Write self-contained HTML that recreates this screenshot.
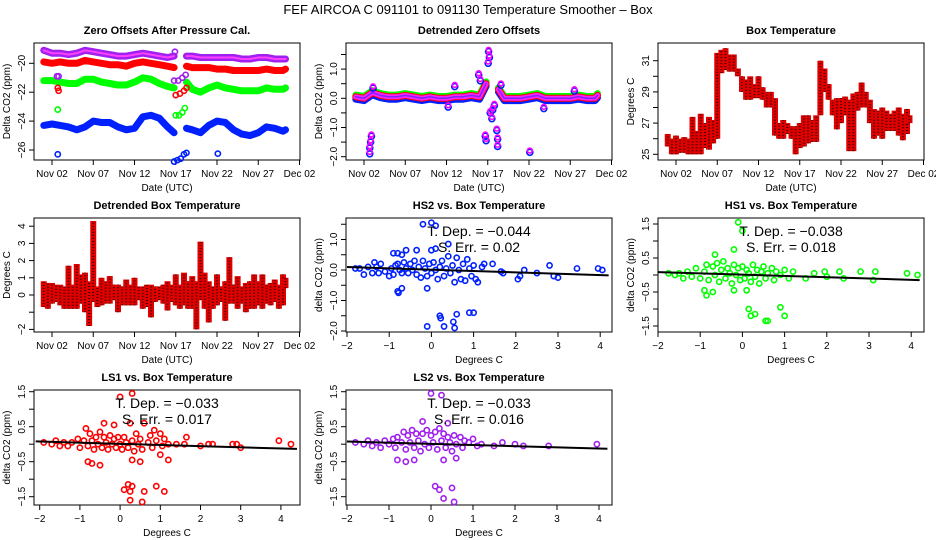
<!DOCTYPE html>
<html><head><meta charset="utf-8"><style>
html,body{margin:0;padding:0;background:#fff}
svg{display:block;font-family:"Liberation Sans",sans-serif}
</style></head><body>
<svg id="c" width="936" height="540" viewBox="0 0 936 540">
<text x="468" y="14" text-anchor="middle" font-size="13">FEF   AIRCOA C   091101 to 091130   Temperature Smoother – Box</text>
</svg>
<script>
// ---- data ----
const dateTicks = [2,7,12,17,22,27,32];
const dateLabels = ["Nov 02","Nov 07","Nov 12","Nov 17","Nov 22","Nov 27","Dec 02"];
const days = [1,2,3,4,5,6,7,8,9,10,11,12,13,14,15,16,16.8,null,18.3,19,20,21,22,23,24,25,26,27,28,29,30,30.3];
const zPurple = [-19.1,-19.3,-19.3,-19.4,-19.3,-19.1,-19.2,-19.3,-19.4,-19.5,-19.5,-19.4,-19.3,-19.4,-19.5,-19.6,-19.5,null,-19.5,-19.5,-19.6,-19.6,-19.6,-19.6,-19.6,-19.7,-19.7,-19.6,-19.6,-19.7,-19.7,-19.7];
const zRed = [-19.9,-20.0,-19.9,-20.0,-20.0,-19.8,-19.9,-20.0,-20.1,-20.1,-20.2,-20.0,-19.9,-20.0,-20.1,-20.2,-20.3,null,-20.2,-20.3,-20.3,-20.3,-20.4,-20.4,-20.5,-20.5,-20.5,-20.5,-20.4,-20.5,-20.5,-20.4];
const zGreen = [-21.2,-21.2,-21.3,-21.4,-21.4,-21.1,-21.1,-21.3,-21.4,-21.5,-21.5,-21.3,-21.0,-21.1,-21.4,-21.6,-21.7,null,-21.3,-21.8,-22.0,-21.7,-21.5,-21.7,-21.8,-21.9,-21.9,-21.9,-21.7,-21.8,-21.8,-21.7];
const zBlue = [-24.3,-24.2,-24.3,-24.4,-24.6,-24.4,-24.0,-24.1,-24.1,-24.4,-24.6,-24.5,-23.7,-23.6,-23.8,-24.4,-24.8,null,-24.5,-24.6,-24.8,-24.3,-24.0,-24.1,-24.6,-24.9,-25.0,-24.8,-24.4,-24.5,-24.7,-24.6];
const zOutBlue = [[2.7,-26.3],[16.8,-26.8],[17.2,-26.7],[17.6,-26.6],[18,-26.3],[18.3,-26.2],[22.1,-26.25]];
const zOutGreen = [[2.7,-23.2],[17,-23.6],[17.4,-23.6],[17.8,-23.4],[18.1,-23.1]];
const zOutRed = [[2.7,-21.7],[2.8,-21.9],[17,-22.2],[17.5,-22.1],[18,-21.9],[18.3,-21.7]];
const zOutPurple = [[2.6,-20.9],[2.8,-20.9],[16.8,-21.2],[17.3,-21.2],[17.8,-21.0],[18.2,-20.8],[16.9,-19.2]];

const dtBase = [0.05,0.0,0.2,0.1,0.05,0.05,0.1,0.05,0.0,0.05,0.0,0.0,0.05,0.05,0.1,0.05,0.5,null,0.3,0.0,0.0,0.0,0.05,0.1,0.0,0.0,0.0,0.0,0.05,0.0,0.0,0.1];
const dtOutliers = [[2.7,-1.9],[2.7,-1.7],[2.8,-1.5],[2.9,-1.3],[3.1,0.35],[12.2,-0.3],[13,0.4],[15.9,0.8],[16.1,0.6],[16.7,-1.3],[16.8,-1.45],[17.1,1.6],[17.2,1.4],[17.05,1.2],[17.3,-0.5],[17.5,-0.7],[17.6,-0.4],[17.8,-0.25],[18.1,-1.1],[18.2,-1.4],[18.2,-1.65],[18.6,0.45],[22.1,-1.85],[23.8,-0.35],[27.5,0.25]];

const btDays = [1,1.5,2,2.5,3,3.5,4,4.5,5,5.5,6,6.5,7,7.5,8,8.5,9,9.5,10,10.5,11,11.5,12,12.5,13,13.5,14,14.5,15,15.5,16,16.5,17,17.5,18,18.5,19,19.5,20,20.5,21,21.5,22,22.5,23,23.5,24,24.5,25,25.5,26,26.5,27,27.5,28,28.5,29,29.5,30,30.3];
const btLo = [25.5,25,25,25.1,25.1,25,25,25,25,25.4,25.3,25.7,26,30.2,30.4,30.3,30.3,30,29,28.5,28.5,28.6,28.6,28.5,28,28,26.2,26,26,26.3,26,25,25.4,25.5,25.7,25.8,25.8,27.5,29,28.5,27.5,26.6,27,27.5,25.2,25.2,27.8,28,28,27,26,26.2,26,26.5,26.5,26.5,26.2,25.9,26.3,27];
const btHi = [26.3,26,26.2,26,26.1,26,27.4,26.5,27.6,27,27.4,27.2,31.5,31.7,31.8,31.4,31.4,30.5,30,29.8,30,29.5,30,29.3,29,29,28.6,27,27.2,27,26.8,26.8,27,27.5,27.5,27.2,27.5,31,30.5,29.5,28.5,28.6,28.6,28.7,28.5,28.9,29,29.6,29,28.5,27.9,27.8,28,27.8,27.6,27.8,28,27.6,27.9,27.5];
const dbLo = [-0.7,-0.8,-0.5,-0.4,-0.6,-0.8,-0.8,-0.8,-0.8,-0.5,-1.0,-1.8,-0.4,-0.7,-0.6,-0.5,-0.5,-0.3,-1.0,-0.6,-0.6,-0.6,-0.6,-0.3,-0.8,-0.7,-1.3,-0.4,-0.3,-0.5,-0.9,-0.4,-0.6,-0.8,-0.6,-0.8,-0.8,-2.0,-0.3,-0.8,-1.6,-0.8,-0.6,-0.4,-1.5,-0.5,-0.5,-0.8,-0.5,-1.0,-0.8,-0.8,-0.6,-0.8,-0.5,-0.6,-0.4,-0.8,-0.6,0.4];
const dbHi = [0.8,0.7,0.7,0.6,0.6,0.5,1.7,0.6,1.8,1.2,1.3,0.8,4.3,0.5,1.0,0.8,1.1,0.6,0.6,0.5,0.9,0.6,1.0,0.5,0.5,0.6,0.6,0.5,0.5,0.6,0.8,0.6,1.2,0.6,1.3,0.8,1.1,0.8,3.1,1.3,0.8,0.5,1.2,0.5,0.8,2.2,0.6,1.1,0.5,0.7,0.8,1.2,0.8,1.2,0.6,0.7,0.9,0.6,1.2,1.0];

const hs2Pts = [[-1.8,0.05],[-1.7,0.05],[-1.6,-0.15],[-1.5,0.1],[-1.4,-0.1],[-1.35,0.25],[-1.3,0.1],[-1.25,-0.1],[-1.2,0.2],[-1.1,-0.05],[-1.0,-0.2],[-0.95,0.05],[-0.9,-0.15],[-0.85,0.15],[-0.8,0.2],[-0.75,0.0],[-0.7,-0.1],[-0.65,0.25],[-0.6,0.05],[-0.55,-0.1],[-0.5,0.2],[-0.45,0.0],[-0.4,0.3],[-0.35,-0.15],[-0.3,0.1],[-0.25,-0.25],[-0.2,0.3],[-0.15,0.05],[-0.1,-0.2],[-0.05,0.2],[0,-0.1],[0.05,0.25],[0.1,0.0],[0.15,-0.3],[0.2,0.1],[0.25,0.3],[0.3,-0.2],[0.35,0.05],[0.4,0.45],[0.45,-0.1],[0.5,0.15],[0.55,-0.4],[0.6,0.4],[0.65,0.0],[0.7,-0.3],[0.75,0.2],[0.8,-0.35],[0.85,0.35],[0.9,0.05],[0.95,-0.2],[1.0,0.15],[1.05,-0.3],[1.1,-0.4],[1.2,0.1],[1.25,0.2],[1.45,0.2],[1.65,-0.05],[1.7,-0.1],[2.05,-0.3],[2.1,-0.2],[2.2,0.0],[2.5,-0.1],[2.8,0.15],[2.9,-0.2],[3.0,-0.25],[3.45,0.05],[3.95,0.05],[4.05,0.0],[-0.2,1.5],[0,1.55],[0.1,1.45],[0.4,0.85],[0,0.65],[0.1,0.7],[-0.9,0.55],[-0.8,0.55],[-0.7,0.5],[-0.6,0.65],[-0.35,0.65],[-0.8,-0.7],[-0.78,-0.75],[-0.7,-0.6],[-0.1,-0.6],[0.2,-1.5],[0.22,-1.58],[0.6,-1.45],[0.9,-1.4],[1.0,-1.4],[-0.1,-1.85],[0.3,-1.85],[0.55,-1.9],[0.52,-1.7]];
const hs2Slope = -0.044;
const hs2Err = "0.02";
const hs1Pts = [[-1.75,0.05],[-1.6,0.0],[-1.5,0.05],[-1.4,-0.1],[-1.3,0.1],[-1.2,-0.05],[-1.1,0.2],[-1.0,-0.1],[-0.9,0.1],[-0.85,0.3],[-0.8,-0.15],[-0.7,0.25],[-0.65,0.0],[-0.6,0.35],[-0.55,-0.2],[-0.5,0.15],[-0.45,0.4],[-0.4,-0.1],[-0.35,0.2],[-0.3,0.05],[-0.25,-0.25],[-0.2,0.3],[-0.15,0.0],[-0.1,0.2],[-0.05,-0.15],[0,0.25],[0.05,-0.1],[0.1,0.15],[0.15,0.05],[0.2,-0.2],[0.25,0.3],[0.3,-0.05],[0.35,0.15],[0.4,-0.25],[0.45,0.1],[0.5,0.25],[0.55,-0.1],[0.6,0.05],[0.7,0.2],[0.75,-0.15],[0.8,0.1],[0.9,0.0],[1.0,0.15],[1.1,-0.1],[1.2,0.1],[1.5,-0.1],[1.7,0.05],[1.95,0.1],[2.0,-0.05],[2.3,0.1],[2.4,-0.1],[2.8,0.1],[3.1,-0.15],[3.15,0.1],[3.9,0.05],[4.15,0.0],[-0.1,1.55],[0.0,1.3],[-0.2,0.75],[-0.65,0.6],[-0.9,-0.45],[-0.85,-0.6],[-0.7,-0.5],[-0.2,-0.45],[0.1,-0.45],[0.15,-1.0],[0.2,-1.2],[0.3,-1.15],[0.55,-1.35],[0.6,-1.35],[0.9,-0.95],[1.0,-1.2]];
const hs1Slope = -0.038;
const hs1Err = "0.018";
const ls1Pts = [[-1.9,0.05],[-1.7,0.0],[-1.6,0.1],[-1.5,-0.05],[-1.4,0.05],[-1.3,-0.05],[-1.2,0.05],[-1.05,0.15],[-1.0,-0.1],[-0.9,0.1],[-0.85,0.45],[-0.8,-0.05],[-0.75,0.3],[-0.7,0.1],[-0.65,-0.15],[-0.6,0.2],[-0.55,0.0],[-0.5,0.35],[-0.45,-0.1],[-0.4,0.2],[-0.35,0.05],[-0.3,-0.15],[-0.25,0.25],[-0.2,0.0],[-0.15,0.15],[-0.1,-0.1],[-0.05,0.2],[0,0.0],[0.05,-0.15],[0.1,0.2],[0.15,0.05],[0.2,-0.1],[0.25,0.6],[0.3,0.1],[0.35,-0.2],[0.4,0.3],[0.45,0.0],[0.5,0.15],[0.55,-0.15],[0.6,0.6],[0.7,0.05],[0.75,0.25],[0.8,-0.1],[0.85,0.4],[0.9,0.1],[1.0,0.3],[1.05,-0.05],[1.1,0.15],[1.2,0.0],[1.4,0.0],[1.6,0.0],[1.65,0.2],[2.0,-0.05],[2.2,0.0],[2.3,0.0],[2.8,0.0],[2.9,0.0],[3.0,-0.1],[3.95,0.1],[4.25,0.0],[0.3,1.45],[0.0,1.35],[-0.4,0.6],[-0.15,0.55],[-0.8,-0.5],[-0.7,-0.55],[-0.5,-0.6],[0.3,-0.45],[0.5,-0.5],[1.0,-0.3],[1.2,-0.45],[0.1,-1.3],[0.2,-1.15],[0.25,-1.35],[0.3,-1.2],[0.6,-1.35],[0.9,-1.2],[1.1,-1.35],[0.25,-1.6],[0.55,-1.65]];
const ls1Slope = -0.033;
const ls1Err = "0.017";
const ls2Pts = [[-1.8,0.05],[-1.6,0.0],[-1.5,0.1],[-1.4,-0.05],[-1.3,0.05],[-1.2,-0.1],[-1.1,0.1],[-1.0,0.0],[-0.9,0.15],[-0.85,-0.1],[-0.8,0.2],[-0.7,0.05],[-0.65,0.35],[-0.6,-0.15],[-0.55,0.25],[-0.5,0.05],[-0.45,0.4],[-0.4,-0.1],[-0.35,0.3],[-0.3,0.1],[-0.25,-0.2],[-0.2,0.3],[-0.15,0.0],[-0.1,0.4],[-0.05,-0.1],[0,0.25],[0.05,0.05],[0.1,0.35],[0.15,-0.15],[0.2,0.45],[0.25,0.1],[0.3,0.3],[0.35,-0.1],[0.4,0.2],[0.45,0.05],[0.5,-0.2],[0.55,0.25],[0.6,0.0],[0.7,0.2],[0.75,-0.1],[0.8,0.1],[0.9,0.05],[1.0,0.15],[1.1,-0.05],[1.2,0.0],[1.5,-0.05],[1.7,0.05],[2.0,0.0],[2.2,-0.05],[2.8,-0.05],[3.95,0.0],[0.0,1.45],[0.25,1.4],[-0.2,0.65],[0.4,0.6],[-0.8,-0.45],[-0.6,-0.5],[-0.4,-0.45],[0.3,-0.45],[0.6,-0.4],[0.1,-1.2],[0.2,-1.3],[0.5,-1.25],[0.3,-1.55],[0.55,-1.65]];
const ls2Slope = -0.033;
const ls2Err = "0.016";

// ---- drawing ----
const svg = document.getElementById('c');
const NS = 'http://www.w3.org/2000/svg';
function mk(tag, attrs, parent){ const e=document.createElementNS(NS,tag); for(const k in attrs) e.setAttribute(k,attrs[k]); (parent||svg).appendChild(e); return e; }
function txt(x,y,s,size,attrs,parent){ const e=mk('text',Object.assign({x:x,y:y,'font-size':size,'text-anchor':'middle'},attrs||{}),parent); e.textContent=s; return e; }

const rowsY = [[43,160],[218,332],[390,505]];
function panel(col,row,name,title,xlab,ylab){
  const g = mk('g',{});
  
  
  const x0=34+312*col, x1=300+312*col, y0=rowsY[row][0], y1=rowsY[row][1];
  const b=mk('rect',{x:x0,y:y0,width:x1-x0,height:y1-y0,fill:'none',stroke:'#000','stroke-width':1},g);
  
  
  const t=txt((x0+x1)/2,y0-9,title,11,{'font-weight':'bold'},g);
  
  
  const xl=txt((x0+x1)/2,y1+31,xlab,10,{},g);
  
  
  const yl=txt(0,0,ylab,10,{transform:`translate(${x0-24},${(y0+y1)/2}) rotate(-90)`},g);
  
  
  return {g,x0,x1,y0,y1};
}
function xTicks(p,fx,vals,labels){
  vals.forEach((v,i)=>{ const x=fx(v);
    mk('line',{x1:x,x2:x,y1:p.y1,y2:p.y1+5,stroke:'#000'},p.g);
    const t=txt(x,p.y1+17,labels[i],10,{},p.g);
    
    
  });
  mk('line',{x1:fx(vals[0]),x2:fx(vals[vals.length-1]),y1:p.y1,y2:p.y1,stroke:'#000'},p.g);
}
function yTicks(p,fy,vals,labels){
  vals.forEach((v,i)=>{ const y=fy(v);
    mk('line',{x1:p.x0-5,x2:p.x0,y1:y,y2:y,stroke:'#000'},p.g);
    if(labels[i]!==''){ const t=txt(0,0,labels[i],10,{transform:`translate(${p.x0-9},${y}) rotate(-90)`},p.g);
      
       }
  });
}
function series(p,fx,fy,xs,ys,color,w,name){
  let segs=[],cur=[];
  xs.forEach((d,i)=>{ if(d===null||ys[i]===null){ if(cur.length) segs.push(cur); cur=[]; } else cur.push(fx(d).toFixed(1)+','+fy(ys[i]).toFixed(1)); });
  if(cur.length) segs.push(cur);
  segs.forEach(s=>{ const l=mk('polyline',{points:s.join(' '),fill:'none',stroke:color,'stroke-width':w,'stroke-linejoin':'round','stroke-linecap':'round'},p.g);
    
     });
}
function pts(p,fx,fy,arr,color,name,r){
  arr.forEach(q=>{ const c=mk('circle',{cx:fx(q[0]),cy:fy(q[1]),r:r||2.6,fill:'none',stroke:color,'stroke-width':1.6},p.g);
    
     });
}
function bands(p,fx,fy,xs,lo,hi,name){
  xs.forEach((d,i)=>{ const x=fx(d);
    const r=mk('line',{x1:x,x2:x,y1:fy(lo[i]),y2:fy(hi[i]),stroke:'#e00000','stroke-width':6},p.g);
    
    
    mk('line',{x1:x,x2:x,y1:fy(lo[i]),y2:fy(hi[i]),stroke:'#400','stroke-width':2,'stroke-dasharray':'1 2'},p.g);
  });
}
const tx = col => d => 52+312*col+(d-2)*8.25;

// Panel 1
{ const p=panel(0,0,'zero-offsets-panel','Zero Offsets After Pressure Cal.','Date (UTC)','Delta CO2  (ppm)');
  const fx=tx(0), fy=v=>63.3-(v+20)*14.45;
  xTicks(p,fx,dateTicks,dateLabels); yTicks(p,fy,[-26,-24,-22,-20],['−26','−24','−22','−20']);
  series(p,fx,fy,days,zBlue,'#0020ff',7,'blue-series');
  series(p,fx,fy,days,zGreen,'#00ff00',7,'green-series');
  series(p,fx,fy,days,zRed,'#ff0000',7,'red-series');
  series(p,fx,fy,days,zPurple,'#a020f0',7,'purple-series');
  series(p,fx,fy,days,zPurple,'#ff40ff',2,'purple-series-highlight');
  pts(p,fx,fy,zOutBlue,'#0020ff','blue-outlier'); pts(p,fx,fy,zOutGreen,'#00ff00','green-outlier');
  pts(p,fx,fy,zOutRed,'#ff0000','red-outlier'); pts(p,fx,fy,zOutPurple,'#a020f0','purple-outlier');
}
// Panel 2
{ const p=panel(1,0,'detrended-offsets-panel','Detrended Zero Offsets','Date (UTC)','Delta CO2  (ppm)');
  const fx=tx(1), fy=v=>98.3-v*29.2;
  xTicks(p,fx,dateTicks,dateLabels); yTicks(p,fy,[-2,-1.5,-1,-0.5,0,0.5,1,1.5],['−2.0','','−1.0','','0.0','','1.0','']);
  series(p,fx,fy,days,dtBase.map(v=>v===null?null:v-0.08),'#0020ff',7,'blue-detrended');
  series(p,fx,fy,days,dtBase.map(v=>v===null?null:v+0.06),'#00ff00',7,'green-detrended');
  series(p,fx,fy,days,dtBase,'#ff0000',7,'red-detrended');
  series(p,fx,fy,days,dtBase,'#ff20ff',5,'purple-detrended');
  series(p,fx,fy,days,dtBase,'#8020ff',1.5,'purple-detrended-dots');
  pts(p,fx,fy,dtOutliers,'#0020ff','detrended-outlier-blue',3);
  pts(p,fx,fy,dtOutliers.map(q=>[q[0],q[1]+0.06]),'#ff00ff','detrended-outlier-purple',2.4);
}
// Panel 3
{ const p=panel(2,0,'box-temperature-panel','Box Temperature','Date (UTC)','Degrees C');
  const fx=tx(2), fy=v=>154.3-(v-25)*15.6;
  xTicks(p,fx,dateTicks,dateLabels); yTicks(p,fy,[25,26,27,28,29,30,31],['25','','27','','29','','31']);
  bands(p,fx,fy,btDays,btLo,btHi,'box-temp-band');
}
// Panel 4
{ const p=panel(0,1,'detrended-box-temp-panel','Detrended Box Temperature','Date (UTC)','Degrees C');
  const fx=tx(0), fy=v=>295-v*17.2;
  xTicks(p,fx,dateTicks,dateLabels); yTicks(p,fy,[-2,-1,0,1,2,3,4],['−2','','0','1','2','3','4']);
  bands(p,fx,fy,btDays,dbLo,dbHi,'detrended-temp-band');
}
function scatterPanel(col,row,name,title,data,slope,err,color,fx,fy,yv,yl,xMin,xMax){
  const p=panel(col,row,name,title,'Degrees C','delta CO2 (ppm)');
  xTicks(p,fx,[-2,-1,0,1,2,3,4],['−2','−1','0','1','2','3','4']);
  yTicks(p,fy,yv,yl);
  pts(p,fx,fy,data,color,name+'-point');
  const l=mk('line',{x1:fx(xMin),y1:fy(slope*xMin+0.01),x2:fx(xMax),y2:fy(slope*xMax+0.01),stroke:'#000','stroke-width':2},p.g);
  
  
  const cx=(p.x0+p.x1)/2;
  const t1=txt(cx,p.y0+18,'T. Dep. =  '+String(slope).replace('-','−'),14,{},p.g);
  
  
  const t2=txt(cx,p.y0+34,'S. Err. =  '+err,14,{},p.g);
  
  
}
scatterPanel(1,1,'hs2-scatter','HS2 vs. Box Temperature',hs2Pts,hs2Slope,hs2Err,'#0020ff',
  v=>347+(v+2)*42.2, v=>270-v*30.5,[-2,-1.5,-1,-0.5,0,0.5,1,1.5],['−2.0','','−1.0','','0.0','','1.0',''],-2,4.2);
scatterPanel(2,1,'hs1-scatter','HS1 vs. Box Temperature',hs1Pts,hs1Slope,hs1Err,'#00ff00',
  v=>658+(v+2)*42.2, v=>275-v*34,[-1.5,-1,-0.5,0,0.5,1,1.5],['−1.5','','−0.5','','0.5','','1.5'],-2,4.2);
scatterPanel(0,2,'ls1-scatter','LS1 vs. Box Temperature',ls1Pts,ls1Slope,ls1Err,'#ff0000',
  v=>39.7+(v+2)*40.2, v=>444.2-v*35,[-1.5,-1,-0.5,0,0.5,1,1.5],['−1.5','','−0.5','','0.5','','1.5'],-2.1,4.4);
scatterPanel(1,2,'ls2-scatter','LS2 vs. Box Temperature',ls2Pts,ls2Slope,ls2Err,'#a020f0',
  v=>347+(v+2)*42, v=>444.2-v*35,[-1.5,-1,-0.5,0,0.5,1,1.5],['−1.5','','−0.5','','0.5','','1.5'],-2,4.2);
</script>
</body></html>
